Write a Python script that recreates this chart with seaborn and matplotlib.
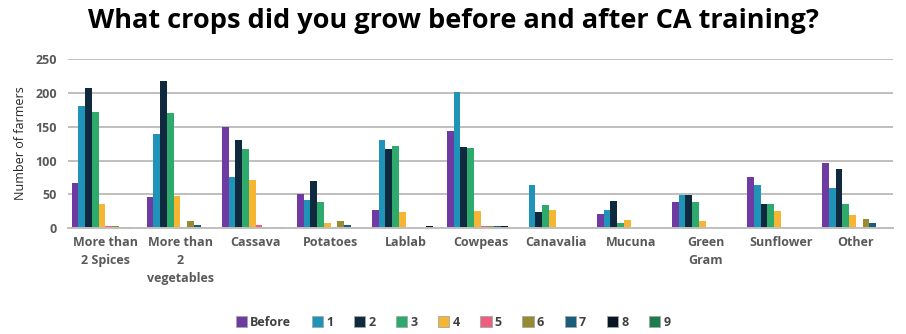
import matplotlib
matplotlib.use("Agg")
import matplotlib.pyplot as plt
import seaborn as sns
import pandas as pd

# Crops grown before and after CA training (number of farmers)
categories = ["More than\n2 Spices", "More than\n2\nvegetables", "Cassava", "Potatoes",
              "Lablab", "Cowpeas", "Canavalia", "Mucuna", "Green\nGram", "Sunflower", "Other"]
series_names = ["Before", "1", "2", "3", "4", "5", "6", "7", "8", "9"]

before = [67, 46, 149, 50, 27, 143, 1, 21, 39, 76, 97]
s1 = [181, 139, 76, 41, 130, 202, 64, 27, 49, 64, 60]
s2 = [207, 217, 130, 69, 117, 120, 24, 40, 49, 36, 87]
s3 = [172, 171, 117, 38, 121, 118, 34, 8, 39, 36, 36]
s4 = [35, 48, 71, 8, 24, 25, 27, 12, 11, 26, 19]
s5 = [3, 1, 5, 0, 0, 3, 0, 0, 0, 0, 0]
s6 = [3, 11, 2, 10, 0, 3, 0, 0, 0, 0, 13]
s7 = [1, 5, 1, 4, 0, 3, 0, 0, 0, 0, 8]
s8 = [1, 0, 1, 0, 3, 3, 0, 0, 0, 0, 0]
s9 = [0, 0, 0, 0, 0, 0, 0, 0, 0, 0, 0]

colors = ["#6F3BA3", "#1F93B8", "#0F2A3F", "#2EAA6C", "#F6B532",
          "#EC5F7E", "#968A33", "#1B5E7B", "#0A1623", "#1D7C4D"]

all_series = [before, s1, s2, s3, s4, s5, s6, s7, s8, s9]
rows = []
for name, vals in zip(series_names, all_series):
    for cat, v in zip(categories, vals):
        rows.append({"crop": cat, "group": name, "farmers": v})
df = pd.DataFrame(rows)

sns.set_style("white")
plt.rcParams["font.family"] = ["Open Sans", "DejaVu Sans"]

fig = plt.figure(figsize=(9.06, 3.34), dpi=100)
ax = fig.add_axes([0.075, 0.317, 0.911, 0.506])

sns.barplot(data=df, x="crop", y="farmers", hue="group", order=categories,
            hue_order=series_names, palette=colors, width=0.9,
            saturation=1, linewidth=0, ax=ax, legend=True)

ax.set_ylim(0, 250)
ax.set_yticks([0, 50, 100, 150, 200, 250])
ax.set_xlim(-0.5, len(categories) - 0.5)
ax.yaxis.grid(True, color="#BFBFBF", linewidth=1.4)
ax.set_axisbelow(True)
for side in ["left", "right", "top"]:
    ax.spines[side].set_visible(False)
ax.spines["bottom"].set_color("#BFBFBF")
ax.spines["bottom"].set_linewidth(1.4)

ax.tick_params(axis="y", length=5, color="#BFBFBF", width=1.2,
               labelsize=9, labelcolor="#595959", pad=3)
ax.tick_params(axis="x", length=0, labelsize=9, labelcolor="#595959", pad=6)
for lbl in ax.get_xticklabels() + ax.get_yticklabels():
    lbl.set_fontweight("bold")
for lbl in ax.get_xticklabels():
    lbl.set_verticalalignment("top")
    lbl.set_linespacing(1.5)

ax.set_xlabel("")
ax.set_ylabel("Number of farmers", fontsize=9, color="#262626", labelpad=6)

fig.suptitle("What crops did you grow before and after CA training?",
             fontsize=19.5, fontweight="bold", color="#000000", y=0.975)

handles, labels = ax.get_legend_handles_labels()
ax.legend_.remove()
fig.legend(handles, labels, loc="center", bbox_to_anchor=(0.5, 0.035), ncol=10,
           frameon=False, handlelength=0.9, handleheight=0.9,
           handletextpad=0.25, columnspacing=1.65,
           prop={"weight": "bold", "size": 9})
leg = fig.legends[0]
for t in leg.get_texts():
    t.set_color("#404040")
for h in leg.legend_handles:
    h.set_edgecolor("#A6A6A6")
    h.set_linewidth(0.6)

fig.savefig("out.png", dpi=100)
